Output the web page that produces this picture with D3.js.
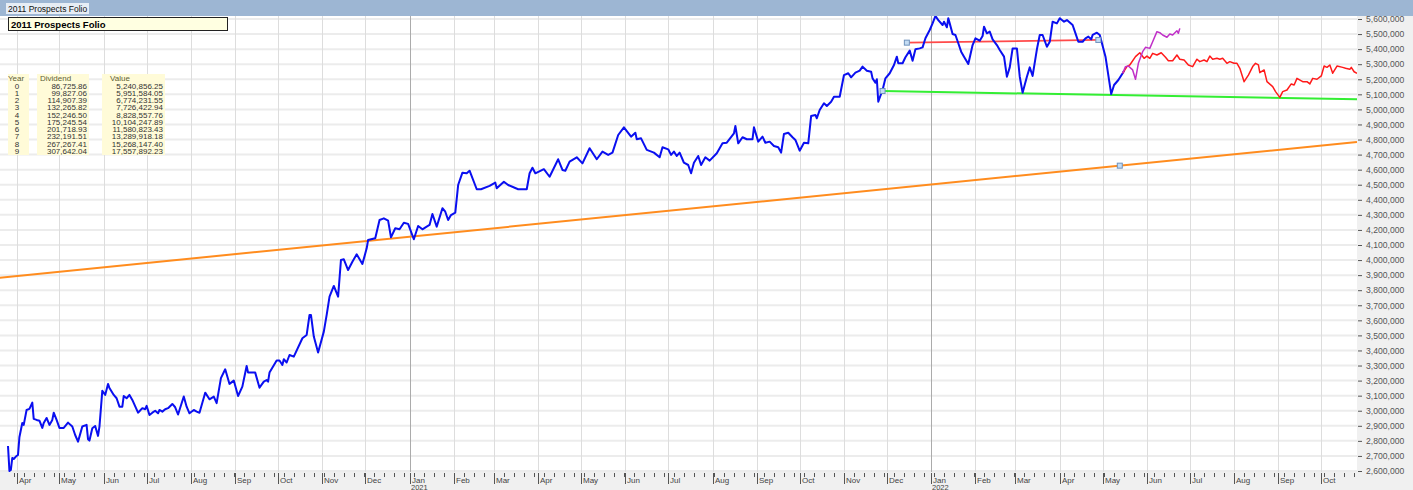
<!DOCTYPE html>
<html>
<head>
<meta charset="utf-8">
<script src="https://cdn.jsdelivr.net/npm/d3@7"></script>
<style>
  body { margin: 0; background: #fff; }
  svg { display: block; }
  text { font-family: "Liberation Sans", Arial, sans-serif; }
</style>
</head>
<body>
<div id="chart"></div>
<script>
/* * * * * * * * * * * * * *
 *   2011 Prospects Folio    *
 * * * * * * * * * * * * * */

const chartTitle = "2011 Prospects Folio";

// series x values are days after this date, y values in thousands
const startDate = new Date(2020, 2, 26);
const endDate = new Date(2022, 9, 26);

// portfolio value (blue)
const portfolio = [
  [0,2766],[1,2600],[2,2607],[3,2687],[4,2680],[6,2700],[7,2707],[8,2826],[10,2919],[11,2906],[13,3005],[15,3012],
  [17,3054],[18,2946],[20,2939],[22,2934],[24,2886],[25,2919],[27,2952],[29,2906],[31,2939],[32,2987],[34,2939],
  [36,2886],[39,2886],[42,2921],[45,2895],[47,2839],[49,2795],[50,2828],[52,2895],[55,2906],[56,2811],[57,2802],
  [59,2884],[61,2899],[63,2833],[64,2895],[66,3133],[68,3105],[70,3178],[71,3151],[74,3105],[76,3083],[78,3027],
  [80,3027],[81,3098],[83,3083],[85,3105],[87,3072],[91,2987],[94,3017],[96,3010],[97,3032],[99,2972],[101,2987],
  [103,3000],[105,2983],[106,3005],[108,2994],[110,3010],[112,3017],[115,3045],[117,3023],[119,2975],[123,3094],
  [125,3027],[127,2983],[130,3005],[132,2994],[134,2987],[138,3120],[141,3076],[144,3094],[146,3050],[149,3216],
  [152,3275],[155,3178],[158,3200],[161,3098],[164,3160],[167,3297],[168,3253],[173,3253],[176,3153],[179,3193],
  [181,3204],[182,3193],[183,3253],[188,3333],[190,3333],[192,3304],[193,3342],[195,3320],[197,3370],[200,3359],
  [206,3481],[209,3503],[211,3636],[212,3636],[214,3492],[217,3386],[221,3525],[223,3636],[225,3757],[228,3828],
  [231,3757],[233,4001],[235,4005],[238,3934],[241,3989],[244,4038],[248,3974],[251,4078],[252,4133],[257,4145],
  [260,4266],[263,4277],[266,4262],[268,4151],[271,4211],[274,4204],[277,4248],[280,4240],[284,4138],[287,4226],
  [290,4204],[293,4222],[295,4233],[297,4306],[300,4222],[304,4344],[306,4321],[308,4266],[310,4299],[313,4315],
  [315,4498],[318,4580],[321,4576],[323,4593],[328,4470],[331,4470],[337,4492],[341,4514],[342,4476],[347,4520],
  [350,4498],[357,4470],[363,4470],[365,4576],[367,4613],[369,4576],[375,4603],[379,4553],[385,4669],[388,4598],
  [390,4593],[393,4653],[398,4682],[402,4642],[407,4742],[412,4669],[416,4720],[420,4698],[423,4713],[427,4830],
  [431,4881],[436,4819],[439,4845],[440,4802],[443,4808],[447,4731],[452,4713],[456,4682],[458,4749],[462,4735],
  [464,4698],[466,4720],[468,4691],[470,4713],[473,4646],[476,4631],[478,4576],[480,4646],[483,4691],[485,4631],
  [488,4682],[491,4660],[496,4709],[500,4775],[503,4779],[508,4841],[509,4890],[511,4775],[514,4815],[517,4802],
  [521,4802],[522,4881],[525,4786],[528,4819],[530,4779],[533,4786],[536,4757],[539,4749],[541,4713],[543,4837],
  [546,4845],[549,4815],[551,4797],[554,4726],[557,4779],[560,4775],[562,4956],[565,4963],[566,4941],[568,4996],
  [571,5041],[573,5023],[576,5051],[578,5084],[582,5084],[585,5228],[588,5240],[590,5213],[593,5244],[596,5257],
  [598,5284],[601,5257],[604,5250],[605,5206],[607,5177],[608,5200],[609,5051],[612,5129],[614,5206],[617,5240],
  [620,5295],[622,5350],[623,5306],[626,5306],[628,5346],[631,5390],[633,5323],[635,5399],[638,5405],[640,5412],
  [642,5472],[645,5527],[647,5571],[649,5620],[651,5593],[654,5560],[655,5582],[657,5545],[658,5605],[659,5571],
  [661,5500],[663,5494],[665,5439],[667,5383],[669,5350],[672,5301],[675,5427],[677,5472],[680,5456],[682,5487],
  [683,5549],[685,5505],[687,5516],[689,5465],[692,5427],[694,5394],[697,5350],[699,5217],[701,5279],[703,5405],
  [706,5405],[708,5217],[710,5111],[713,5217],[715,5279],[717,5222],[720,5399],[722,5494],[724,5494],[727,5416],
  [729,5449],[731,5582],[734,5571],[736,5605],[739,5582],[741,5593],[745,5560],[747,5505],[749,5449],[752,5449],
  [754,5472],[756,5483],[758,5465],[759,5494],[762,5509],[764,5494],[768,5350],[772,5102],[774,5162],[777,5195],
  [780,5240],[781,5257]
];

// projection (red)
const projection = [
  [780,5240],[783,5284],[785,5295],[789,5350],[792,5376],[795,5339],[797,5354],[799,5339],[801,5372],[804,5361],
  [807,5376],[810,5346],[812,5323],[815,5323],[818,5361],[820,5333],[823,5328],[826,5295],[829,5284],[832,5333],
  [834,5317],[837,5328],[839,5317],[841,5354],[843,5333],[846,5339],[848,5333],[850,5339],[853,5306],[855,5317],
  [858,5306],[860,5306],[862,5273],[865,5184],[868,5228],[871,5284],[873,5306],[875,5295],[876,5244],[879,5262],
  [881,5184],[885,5151],[887,5118],[890,5080],[892,5118],[895,5129],[898,5169],[900,5162],[902,5206],[906,5184],
  [909,5184],[911,5169],[913,5206],[916,5200],[919,5222],[921,5288],[923,5279],[925,5295],[927,5240],[930,5288],
  [934,5279],[936,5273],[939,5266],[940,5279],[942,5250],[944,5240]
];

// comparison (magenta)
const comparison = [
  [780,5240],[782,5284],[784,5288],[787,5262],[789,5200],[791,5306],[794,5383],[796,5412],[799,5405],[801,5449],
  [804,5516],[806,5509],[808,5494],[811,5479],[813,5500],[815,5494],[818,5522],[819,5505],[820,5538]
];

// drawn trend lines
const longTrend = [[-6,3883],[944,4784]];
const longTrendMarker = [778];
const topLine = [[629,5443],[763,5461]];
const bottomLine = [[612,5122],[944,5067]];

// projection table
const tableYears = [0, 1, 2, 3, 4, 5, 6, 7, 8, 9];
const tableDividends = [86725.86, 99827.06, 114907.39, 132265.82, 152246.50, 175245.54, 201718.93, 232191.51, 267267.41, 307642.04];
const tableValues = [5240856.25, 5951584.05, 6774231.55, 7726422.94, 8828557.76, 10104247.89, 11580823.43, 13289918.18, 15268147.40, 17557892.23];

const yTicks = d3.range(2600000, 5600001, 100000);

/* ---------- setup ---------- */
const width = 1413, height = 490;
const plot = { left: 0, right: 1357, top: 16, bottom: 472 };

const svg = d3.select("#chart").append("svg").attr("width", width).attr("height", height);

const x = d3.scaleTime().domain([startDate, endDate]).range([8, 1357]);
const y = d3.scaleLinear().domain([2600000, 5600000]).range([471, 19]);

const toDate = (d) => d3.timeHour.offset(startDate, d * 24);
const line = d3.line()
  .x((d) => x(toDate(d[0])))
  .y((d) => y(d[1] * 1000));

// axis panels
svg.append("rect").attr("x", plot.right).attr("y", 0).attr("width", width - plot.right).attr("height", height).attr("fill", "#f0f0f0");
svg.append("rect").attr("x", 0).attr("y", plot.bottom).attr("width", width).attr("height", height - plot.bottom).attr("fill", "#f0f0f0");

// header bar
svg.append("rect").attr("x", 0).attr("y", 0).attr("width", width).attr("height", plot.top).attr("fill", "#9db6d3");
svg.append("rect").attr("x", 6).attr("y", 3).attr("width", 83).attr("height", 11).attr("fill", "#e6edf5");
svg.append("text").attr("x", 8).attr("y", 12).attr("font-size", 8.5).attr("fill", "#111").text(chartTitle);

// clip for plot
svg.append("defs").append("clipPath").attr("id", "plotClip")
  .append("rect").attr("x", plot.left).attr("y", plot.top)
  .attr("width", plot.right - plot.left).attr("height", plot.bottom - plot.top);

const chart = svg.append("g").attr("clip-path", "url(#plotClip)");

// grid
chart.selectAll(".hgrid").data(yTicks).enter().append("line")
  .attr("x1", plot.left).attr("x2", plot.right)
  .attr("y1", (d) => y(d)).attr("y2", (d) => y(d))
  .attr("stroke", "#ececec").attr("stroke-width", 2);

const months = d3.timeMonth.range(d3.timeMonth.ceil(x.domain()[0]), x.domain()[1]);
chart.selectAll(".vgrid").data(months).enter().append("line")
  .attr("x1", (d) => Math.round(x(d)) + 0.5).attr("x2", (d) => Math.round(x(d)) + 0.5)
  .attr("y1", plot.top).attr("y2", plot.bottom)
  .attr("stroke", (d) => (d.getMonth() === 0 ? "#ababab" : "#dddddd"))
  .attr("stroke-width", 1);

// series
chart.append("path").datum(longTrend).attr("d", line).attr("fill", "none").attr("stroke", "#ff8c1e").attr("stroke-width", 2);
chart.append("path").datum(bottomLine).attr("d", line).attr("fill", "none").attr("stroke", "#33ee33").attr("stroke-width", 2);
chart.append("path").datum(topLine).attr("d", line).attr("fill", "none").attr("stroke", "#ff4a4a").attr("stroke-width", 1.8);
chart.append("path").datum(portfolio).attr("d", line).attr("fill", "none").attr("stroke", "#0a0ff0").attr("stroke-width", 2).attr("stroke-linejoin", "round");
chart.append("path").datum(projection).attr("d", line).attr("fill", "none").attr("stroke", "#ff1a1a").attr("stroke-width", 1.5).attr("stroke-linejoin", "round");
chart.append("path").datum(comparison).attr("d", line).attr("fill", "none").attr("stroke", "#c030c8").attr("stroke-width", 1.5).attr("stroke-linejoin", "round");

// line handles
const lerp = (pts, d) => pts[0][1] + (pts[1][1] - pts[0][1]) * (d - pts[0][0]) / (pts[1][0] - pts[0][0]);
const handles = [
  topLine[0], topLine[1], bottomLine[0],
  ...longTrendMarker.map((d) => [d, lerp(longTrend, d)])
];
chart.selectAll(".handle").data(handles).enter().append("rect")
  .attr("x", (d) => x(toDate(d[0])) - 2.5).attr("y", (d) => y(d[1] * 1000) - 2.5)
  .attr("width", 5).attr("height", 5)
  .attr("fill", "#c4dcf3").attr("stroke", "#6f93bd").attr("stroke-width", 1);

// title box
svg.append("rect").attr("x", 8.5).attr("y", 17.5).attr("width", 219).attr("height", 13)
  .attr("fill", "#ffffe1").attr("stroke", "#222").attr("stroke-width", 1);
svg.append("text").attr("x", 11).attr("y", 27.5).attr("font-size", 9.5).attr("font-weight", "bold").attr("fill", "#000").text(chartTitle);

// table
const fmt2 = d3.format(",.2f");
const table = svg.append("g").attr("font-family", "DejaVu Sans").attr("font-size", 8).attr("fill", "#333");
table.append("rect").attr("x", 8).attr("y", 74).attr("width", 21).attr("height", 81).attr("fill", "#fffbd8");
table.append("rect").attr("x", 37).attr("y", 74).attr("width", 52).attr("height", 81).attr("fill", "#fffbd8");
table.append("rect").attr("x", 102).attr("y", 74).attr("width", 63).attr("height", 81).attr("fill", "#fffbd8");
table.append("text").attr("x", 8).attr("y", 81).text("Year").attr("fill", "#5e5e34");
table.append("text").attr("x", 40).attr("y", 81).text("Dividend").attr("fill", "#5e5e34");
table.append("text").attr("x", 110).attr("y", 81).text("Value").attr("fill", "#5e5e34");
tableYears.forEach((yr, i) => {
  const ty = 88.5 + i * 7.25;
  table.append("text").attr("x", 17).attr("y", ty).attr("text-anchor", "middle").text(yr);
  table.append("text").attr("x", 87).attr("y", ty).attr("text-anchor", "end").text(fmt2(tableDividends[i]));
  table.append("text").attr("x", 163).attr("y", ty).attr("text-anchor", "end").text(fmt2(tableValues[i]));
});

// right axis
const yAxis = d3.axisRight(y).tickValues(yTicks).tickFormat(d3.format(",")).tickSize(4).tickPadding(4);
const yAxisG = svg.append("g").attr("transform", `translate(${plot.right + 1},0)`).call(yAxis);
yAxisG.select(".domain").remove();
yAxisG.selectAll("line").attr("stroke", "#555");
yAxisG.selectAll("text").attr("font-family", "DejaVu Sans").attr("font-size", 8.6).attr("fill", "#555");

// bottom axis
const axisG = svg.append("g");
const weeks = d3.timeMonday.range(x.domain()[0], x.domain()[1]);
axisG.selectAll(".wtick").data(weeks).enter().append("line")
  .attr("x1", (d) => Math.round(x(d)) + 0.5).attr("x2", (d) => Math.round(x(d)) + 0.5)
  .attr("y1", plot.bottom + 1).attr("y2", plot.bottom + 5)
  .attr("stroke", "#555");
axisG.selectAll(".mtick").data(months).enter().append("line")
  .attr("x1", (d) => Math.round(x(d)) + 0.5).attr("x2", (d) => Math.round(x(d)) + 0.5)
  .attr("y1", plot.bottom + 1).attr("y2", plot.bottom + 12)
  .attr("stroke", "#555");
axisG.selectAll(".mlabel").data(months).enter().append("text")
  .attr("x", (d) => Math.round(x(d)) + 2).attr("y", plot.bottom + 11)
  .attr("font-size", 8).attr("fill", "#444")
  .text(d3.timeFormat("%b"));
axisG.selectAll(".ylabel").data(months.filter((d) => d.getMonth() === 0)).enter().append("text")
  .attr("x", (d) => Math.round(x(d)) + 1).attr("y", plot.bottom + 17.5)
  .attr("font-size", 7.5).attr("fill", "#444")
  .text(d3.timeFormat("%Y"));
</script>
</body>
</html>
